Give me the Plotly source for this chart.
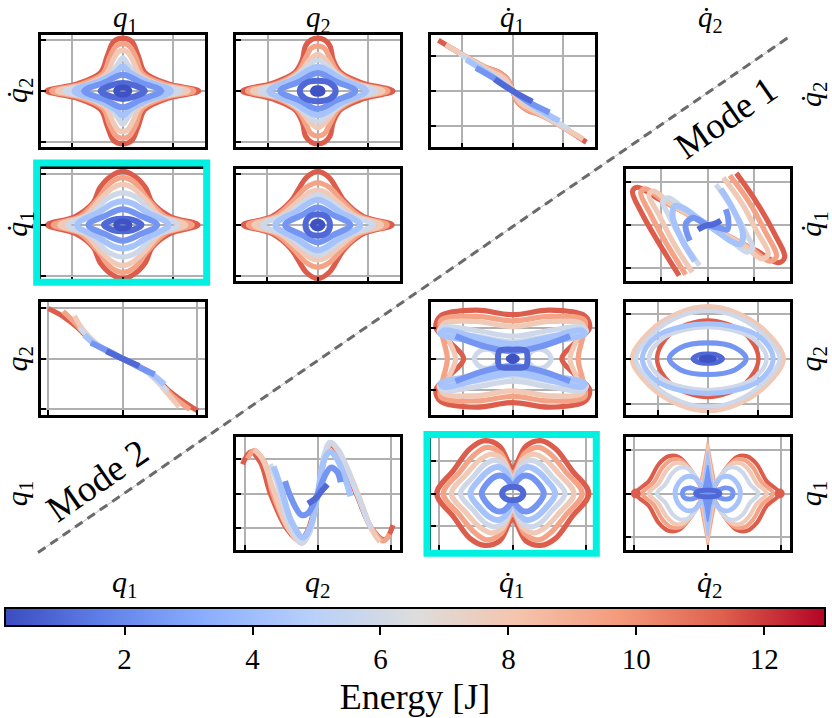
import plotly.graph_objects as go

# energy range of the colour bar and its ticks
E_MIN, E_MAX = 0.13, 12.95
ENERGY_TICKS = [2, 4, 6, 8, 10, 12]

# matplotlib "coolwarm"
COOLWARM = [
    (0.0, (59, 76, 192)), (0.125, (98, 130, 234)), (0.25, (141, 176, 254)),
    (0.375, (184, 208, 249)), (0.5, (221, 221, 221)), (0.625, (245, 196, 173)),
    (0.75, (244, 154, 123)), (0.875, (222, 96, 77)), (1.0, (180, 4, 38)),
]

# orbits, coordinates in % of each panel's half range
# each entry: (energy [J], [(x, y), ...])

# ---- Mode 1 (upper triangle)
q1_dq2 = [
    (11.4, [(-93, 0), (-55, 13), (-27, 33), (-19, 62), (-11, 88), (0, 94), (11, 88), (19, 62), (27, 33), (55, 13), (93, 0),
            (55, -13), (27, -33), (19, -62), (11, -88), (0, -94), (-11, -88), (-19, -62), (-27, -33), (-55, -13), (-93, 0)]),
    (9.4, [(-87, 0), (-51, 12), (-24, 31), (-16, 60), (-8, 80), (0, 84), (8, 80), (16, 60), (24, 31), (51, 12), (87, 0),
           (51, -12), (24, -31), (16, -60), (8, -80), (0, -84), (-8, -80), (-16, -60), (-24, -31), (-51, -12), (-87, 0)]),
    (7.8, [(-80, 0), (-46, 11), (-21, 29), (-12, 55), (-6, 69), (0, 72), (6, 69), (12, 55), (21, 29), (46, 11), (80, 0),
           (46, -11), (21, -29), (12, -55), (6, -69), (0, -72), (-6, -69), (-12, -55), (-21, -29), (-46, -11), (-80, 0)]),
    (5.9, [(-71, 0), (-38, 12), (-16, 28), (-6, 48), (0, 59), (6, 48), (16, 28), (38, 12), (71, 0),
           (38, -12), (16, -28), (6, -48), (0, -59), (-6, -48), (-16, -28), (-38, -12), (-71, 0)]),
    (4.3, [(-59, 0), (-28, 18), (-8, 34), (0, 44), (8, 34), (28, 18), (59, 0), (28, -18), (8, -34), (0, -44), (-8, -34), (-28, -18), (-59, 0)]),
    (2.4, [(-47, 0), (-22, 15), (0, 29), (22, 15), (47, 0), (22, -15), (0, -29), (-22, -15), (-47, 0)]),
    (1.0, [(-27, 0), (-14, 10), (0, 14), (14, 10), (27, 0), (14, -10), (0, -14), (-14, -10), (-27, 0)]),
    (0.3, [(-8, 0), (-5, 5), (0, 6), (5, 5), (8, 0), (5, -5), (0, -6), (-5, -5), (-8, 0)]),
]

q2_dq2 = [
    (11.4, [(-92, 0), (-55, 14), (-28, 33), (-19, 55), (-15, 80), (-8, 91), (0, 94), (8, 91), (15, 80), (19, 55), (28, 33), (55, 14), (92, 0),
            (55, -14), (28, -33), (19, -55), (15, -80), (8, -91), (0, -94), (-8, -91), (-15, -80), (-19, -55), (-28, -33), (-55, -14), (-92, 0)]),
    (9.4, [(-86, 0), (-50, 13), (-25, 33), (-15, 58), (-8, 76), (0, 80), (8, 76), (15, 58), (25, 33), (50, 13), (86, 0),
           (50, -13), (25, -33), (15, -58), (8, -76), (0, -80), (-8, -76), (-15, -58), (-25, -33), (-50, -13), (-86, 0)]),
    (7.8, [(-80, 0), (-46, 13), (-22, 33), (-10, 55), (0, 65), (10, 55), (22, 33), (46, 13), (80, 0),
           (46, -13), (22, -33), (10, -55), (0, -65), (-10, -55), (-22, -33), (-46, -13), (-80, 0)]),
    (5.9, [(-71, 0), (-40, 14), (-18, 36), (0, 55), (18, 36), (40, 14), (71, 0), (40, -14), (18, -36), (0, -55), (-18, -36), (-40, -14), (-71, 0)]),
    (4.3, [(-59, 0), (-29, 21), (0, 43), (29, 21), (59, 0), (29, -21), (0, -43), (-29, -21), (-59, 0)]),
    (2.4, [(-46, 0), (-22, 17), (0, 32), (22, 17), (46, 0), (22, -17), (0, -32), (-22, -17), (-46, 0)]),
    (1.0, [(-22, 0), (-16, 13), (0, 18), (16, 13), (22, 0), (16, -13), (0, -18), (-16, -13), (-22, 0)]),
    (0.3, [(-6, 0), (-4, 4), (0, 5), (4, 4), (6, 0), (4, -4), (0, -5), (-4, -4), (-6, 0)]),
]

dq1_dq2 = [
    (11.4, [(-91, 90), (-60, 63), (-35, 43), (-18, 34), (-6, 20), (0, 0), (6, -20), (18, -34), (35, -43), (60, -63), (90, -91)]),
    (9.4, [(-80, 80), (-55, 59), (-33, 42), (-16, 32), (-5, 18), (0, 0), (5, -18), (16, -32), (33, -42), (55, -59), (86, -86)]),
    (7.8, [(-82, 82), (-45, 50), (-25, 34), (-10, 22), (0, 0), (10, -22), (25, -34), (45, -50), (86, -85)]),
    (5.9, [(-65, 66), (-35, 38), (-12, 16), (0, 0), (12, -16), (35, -38), (69, -68)]),
    (4.3, [(-57, 56), (-30, 31), (0, 0), (30, -31), (57, -53)]),
    (2.4, [(-45, 41), (-20, 20), (0, 0), (20, -20), (45, -38)]),
    (1.0, [(-22, 21), (0, 0), (24, -19)]),
]

q1_dq1 = [
    (11.4, [(-92, 0), (-58, 15), (-36, 40), (-28, 66), (-13, 88), (0, 95), (13, 88), (28, 66), (36, 40), (58, 15), (92, 0),
            (58, -15), (36, -40), (28, -66), (13, -88), (0, -95), (-13, -88), (-28, -66), (-36, -40), (-58, -15), (-92, 0)]),
    (9.4, [(-85, 0), (-52, 15), (-31, 45), (-14, 76), (0, 84), (14, 76), (31, 45), (52, 15), (85, 0),
           (52, -15), (31, -45), (14, -76), (0, -84), (-14, -76), (-31, -45), (-52, -15), (-85, 0)]),
    (7.8, [(-77, 0), (-46, 16), (-28, 45), (-12, 66), (0, 72), (12, 66), (28, 45), (46, 16), (77, 0),
           (46, -16), (28, -45), (12, -66), (0, -72), (-12, -66), (-28, -45), (-46, -16), (-77, 0)]),
    (5.9, [(-67, 0), (-38, 20), (-18, 48), (0, 57), (18, 48), (38, 20), (67, 0), (38, -20), (18, -48), (0, -57), (-18, -48), (-38, -20), (-67, 0)]),
    (4.3, [(-56, 0), (-30, 22), (-12, 38), (0, 42), (12, 38), (30, 22), (56, 0), (30, -22), (12, -38), (0, -42), (-12, -38), (-30, -22), (-56, 0)]),
    (2.4, [(-42, 0), (-22, 16), (0, 28), (22, 16), (42, 0), (22, -16), (0, -28), (-22, -16), (-42, 0)]),
    (1.0, [(-23, 0), (-12, 9), (0, 11), (12, 9), (23, 0), (12, -9), (0, -11), (-12, -9), (-23, 0)]),
    (0.3, [(-8, 0), (-5, 5), (0, 6), (5, 5), (8, 0), (5, -5), (0, -6), (-5, -5), (-8, 0)]),
]

q2_dq1 = [
    (11.4, [(-91, 0), (-56, 15), (-33, 42), (-24, 62), (-14, 84), (0, 95), (14, 84), (24, 62), (33, 42), (56, 15), (91, 0),
            (56, -15), (33, -42), (24, -62), (14, -84), (0, -95), (-14, -84), (-24, -62), (-33, -42), (-56, -15), (-91, 0)]),
    (9.4, [(-85, 0), (-52, 15), (-29, 44), (-15, 66), (0, 75), (15, 66), (29, 44), (52, 15), (85, 0),
           (52, -15), (29, -44), (15, -66), (0, -75), (-15, -66), (-29, -44), (-52, -15), (-85, 0)]),
    (7.8, [(-78, 0), (-46, 16), (-24, 42), (-10, 58), (0, 62), (10, 58), (24, 42), (46, 16), (78, 0),
           (46, -16), (24, -42), (10, -58), (0, -62), (-10, -58), (-24, -42), (-46, -16), (-78, 0)]),
    (5.9, [(-68, 0), (-38, 18), (-16, 42), (0, 54), (16, 42), (38, 18), (68, 0), (38, -18), (16, -42), (0, -54), (-16, -42), (-38, -18), (-68, 0)]),
    (4.3, [(-52, 0), (-26, 24), (0, 45), (26, 24), (52, 0), (26, -24), (0, -45), (-26, -24), (-52, 0)]),
    (2.4, [(-40, 0), (-20, 17), (0, 31), (20, 17), (40, 0), (20, -17), (0, -31), (-20, -17), (-40, 0)]),
    (1.0, [(-15, 0), (-11, 14), (0, 19), (11, 14), (15, 0), (11, -14), (0, -19), (-11, -14), (-15, 0)]),
    (0.3, [(-6, 0), (-4, 4), (0, 6), (4, 4), (6, 0), (4, -4), (0, -6), (-4, -4), (-6, 0)]),
]

dq2_dq1 = [
    (11.4, [(-35, -90), (-59, -34), (-80, 19), (-92, 60), (-86, 67), (-60, 46), (-30, 24), (0, 0), (30, -24), (60, -46),
            (86, -67), (94, -58), (80, -11), (59, 42), (35, 92)]),
    (9.4, [(-27, -88), (-50, -34), (-70, 19), (-82, 58), (-76, 64), (-52, 41), (-26, 20), (0, 0), (26, -20), (52, -41),
           (76, -64), (84, -56), (70, -11), (50, 42), (27, 88)]),
    (7.8, [(-19, -84), (-41, -34), (-60, 19), (-72, 54), (-66, 60), (-45, 37), (-22, 18), (0, 0), (22, -18), (45, -37),
           (66, -60), (74, -52), (60, -11), (41, 40), (19, 84)]),
    (5.9, [(-10, -72), (-30, -30), (-47, 15), (-55, 42), (-48, 48), (-30, 30), (-12, 12), (0, 0), (12, -12), (30, -30),
           (48, -48), (55, -42), (47, -15), (30, 30), (10, 72)]),
    (4.3, [(-16, -64), (-32, -25), (-43, 15), (-40, 34), (-30, 30), (-12, 12), (0, 0), (12, -12), (30, -30), (40, -34),
           (43, -15), (32, 25), (16, 64)]),
    (2.4, [(-22, -28), (-27, 1), (-18, 13), (-6, 4), (0, 0), (14, -5), (24, -8), (25, 12), (22, 28)]),
    (1.0, [(-12, -8), (-4, -2), (8, 2), (16, 8)]),
]

# ---- Mode 2 (lower triangle)
q1_q2 = [
    (11.4, [(-91, 89), (-72, 74), (-55, 55), (-42, 36), (-28, 20), (0, 0), (28, -20), (42, -36), (55, -55), (72, -74), (92, -93)]),
    (9.4, [(-73, 84), (-60, 66), (-46, 44), (-30, 23), (0, 0), (30, -23), (46, -44), (62, -68), (82, -90)]),
    (7.8, [(-59, 76), (-52, 58), (-42, 40), (-28, 22), (0, 0), (28, -22), (42, -40), (55, -62), (69, -86)]),
    (5.9, [(-53, 56), (-42, 38), (-30, 24), (0, 0), (30, -24), (44, -42), (55, -58)]),
    (4.3, [(-47, 42), (-34, 26), (0, 0), (34, -26), (51, -46)]),
    (2.4, [(-39, 28), (-20, 15), (0, 0), (20, -15), (39, -28)]),
    (1.0, [(-20, 13), (0, 0), (20, -13)]),
]

q2_q1 = [
    (11.4, [(-92, 52), (-82, 74), (-70, 55), (-58, 0), (-38, -62), (-22, -84), (-12, -65), (0, 0), (10, 72), (16, 86), (25, 72),
            (47, 0), (66, -62), (82, -82), (92, -56)]),
    (9.4, [(-86, 62), (-78, 76), (-65, 55), (-55, 0), (-36, -62), (-20, -86), (-10, -65), (0, 0), (10, 72), (16, 88), (26, 72),
           (48, 0), (66, -62), (80, -84), (88, -72)]),
    (7.8, [(-78, 78), (-68, 62), (-55, 10), (-36, -62), (-19, -88), (-10, -65), (0, 0), (10, 72), (16, 90), (27, 72),
           (49, 0), (66, -64), (76, -86)]),
    (5.9, [(-58, 52), (-50, 20), (-36, -50), (-20, -88), (-10, -70), (0, 0), (8, 70), (15, 91), (25, 78), (48, 0), (62, -52), (66, -62)]),
    (4.3, [(-54, 48), (-46, 15), (-32, -50), (-18, -78), (-8, -55), (0, 0), (8, 60), (15, 74), (24, 60), (35, 20), (40, -5)]),
    (2.4, [(-40, 22), (-32, -10), (-20, -38), (-12, -35), (0, 0), (10, 35), (16, 46), (24, 38), (28, 20)]),
    (1.0, [(-12, -18), (-2, -8), (5, 5), (12, 16)]),
]

dq1_q2 = [
    (11.4, [(-88, 76), (-45, 86), (0, 78), (45, 86), (88, 76), (94, 55), (76, 28), (60, 0), (76, -28), (94, -55), (88, -76),
            (45, -86), (0, -78), (-45, -86), (-88, -76), (-94, -55), (-76, -28), (-60, 0), (-76, 28), (-94, 55), (-88, 76)]),
    (9.4, [(-88, 68), (-45, 75), (0, 67), (45, 75), (88, 68), (86, 40), (80, 0), (86, -40), (88, -68),
           (45, -75), (0, -67), (-45, -75), (-88, -68), (-86, -40), (-80, 0), (-86, 40), (-88, 68)]),
    (7.8, [(-86, 60), (-45, 66), (0, 57), (45, 66), (86, 60), (78, 32), (70, 0), (78, -32), (86, -60),
           (45, -66), (0, -57), (-45, -66), (-86, -60), (-78, -32), (-70, 0), (-78, 32), (-86, 60)]),
    (5.9, [(-90, 48), (-45, 40), (0, 30), (45, 40), (90, 48), (86, 56), (45, 50), (0, 40), (-45, 50), (-86, 56), (-90, 48)]),
    (5.9, [(-90, -48), (-45, -40), (0, -30), (45, -40), (90, -48), (86, -56), (45, -50), (0, -40), (-45, -50), (-86, -56), (-90, -48)]),
    (5.9, [(-47, 0), (-40, 14), (-32, 17), (-24, 14), (-18, 0), (-24, -14), (-32, -17), (-40, -14), (-47, 0)]),
    (5.9, [(47, 0), (40, 14), (32, 17), (24, 14), (18, 0), (24, -14), (32, -17), (40, -14), (47, 0)]),
    (4.3, [(-88, 44), (-45, 30), (0, 18), (45, 30), (88, 44), (84, 50), (45, 38), (0, 26), (-45, 38), (-84, 50), (-88, 44)]),
    (4.3, [(-88, -44), (-45, -30), (0, -18), (45, -30), (88, -44), (84, -50), (45, -38), (0, -26), (-45, -38), (-84, -50), (-88, -44)]),
    (2.4, [(-70, 40), (-35, 22), (0, 13), (35, 22), (70, 40)]),
    (2.4, [(-70, -40), (-35, -22), (0, -13), (35, -22), (70, -40)]),
    (1.0, [(-18, 0), (-16, 14), (0, 16), (16, 14), (18, 0), (16, -14), (0, -16), (-16, -14), (-18, 0)]),
    (0.3, [(-5, 0), (0, 4), (5, 0), (0, -4), (-5, 0)]),
]

dq2_q2 = [
    (11.4, [(-62, 0), (-45, 45), (0, 68), (45, 45), (62, 0), (45, -45), (0, -68), (-45, -45), (-62, 0)]),
    (9.4, [(-90, 0), (-68, 48), (-34, 79), (0, 88), (34, 79), (68, 48), (90, 0), (68, -48), (34, -79), (0, -88), (-34, -79), (-68, -48), (-90, 0)]),
    (7.8, [(-93, 0), (-70, 50), (-35, 82), (0, 93), (35, 82), (70, 50), (93, 0), (70, -50), (35, -82), (0, -93), (-35, -82), (-70, -50), (-93, 0)]),
    (5.9, [(-88, 0), (-66, 46), (-33, 76), (0, 85), (33, 76), (66, 46), (88, 0), (66, -46), (33, -76), (0, -85), (-33, -76), (-66, -46), (-88, 0)]),
    (5.9, [(-72, 0), (-55, 36), (0, 56), (55, 36), (72, 0), (55, -36), (0, -56), (-55, -36), (-72, 0)]),
    (4.3, [(-80, 0), (-62, 40), (0, 62), (62, 40), (80, 0), (62, -40), (0, -62), (-62, -40), (-80, 0)]),
    (2.4, [(-47, 0), (-33, 20), (0, 28), (33, 20), (47, 0), (33, -20), (0, -28), (-33, -20), (-47, 0)]),
    (1.0, [(-18, 0), (-12, 6), (0, 8), (12, 6), (18, 0), (12, -6), (0, -8), (-12, -6), (-18, 0)]),
    (0.3, [(-8, 0), (0, 3), (8, 0), (0, -3), (-8, 0)]),
]

dq1_q1 = [
    (11.4, [(-93, 0), (-72, 42), (-52, 80), (-34, 94), (-16, 84), (0, 46), (16, 84), (34, 94), (52, 80), (72, 42), (93, 0),
            (72, -42), (52, -80), (34, -92), (16, -84), (0, -46), (-16, -84), (-34, -92), (-52, -80), (-72, -42), (-93, 0)]),
    (9.4, [(-85, 0), (-65, 38), (-46, 70), (-32, 82), (-15, 72), (0, 36), (15, 72), (32, 82), (46, 70), (65, 38), (85, 0),
           (65, -38), (46, -70), (32, -82), (15, -72), (0, -36), (-15, -72), (-32, -82), (-46, -70), (-65, -38), (-85, 0)]),
    (7.8, [(-75, 0), (-57, 34), (-40, 60), (-26, 70), (-12, 60), (0, 28), (12, 60), (26, 70), (40, 60), (57, 34), (75, 0),
           (57, -34), (40, -60), (26, -70), (12, -60), (0, -28), (-12, -60), (-26, -70), (-40, -60), (-57, -34), (-75, 0)]),
    (5.9, [(-64, 0), (-48, 30), (-34, 52), (-22, 59), (-10, 50), (0, 22), (10, 50), (22, 59), (34, 52), (48, 30), (64, 0),
           (48, -30), (34, -52), (22, -59), (10, -50), (0, -22), (-10, -50), (-22, -59), (-34, -52), (-48, -30), (-64, 0)]),
    (4.3, [(-52, 0), (-40, 26), (-28, 42), (-18, 47), (-8, 38), (0, 16), (8, 38), (18, 47), (28, 42), (40, 26), (52, 0),
           (40, -26), (28, -42), (18, -47), (8, -38), (0, -16), (-8, -38), (-18, -47), (-28, -42), (-40, -26), (-52, 0)]),
    (2.4, [(-38, 0), (-30, 20), (-20, 31), (-12, 31), (-5, 22), (0, 12), (5, 22), (12, 31), (20, 31), (30, 20), (38, 0),
           (30, -20), (20, -31), (12, -31), (5, -22), (0, -12), (-5, -22), (-12, -31), (-20, -31), (-30, -20), (-38, 0)]),
    (1.0, [(-13, 0), (-9, 9), (0, 12), (9, 9), (13, 0), (9, -9), (0, -12), (-9, -9), (-13, 0)]),
]

dq2_q1 = [
    (11.4, [(-88, 0), (-72, 22), (-60, 52), (-48, 66), (-36, 65), (-22, 44), (-8, 12), (0, 0), (8, 12), (22, 44), (36, 65), (48, 66),
            (60, 52), (72, 22), (88, 0), (72, -22), (60, -52), (48, -66), (36, -65), (22, -44), (8, -12), (0, 0), (-8, -12),
            (-22, -44), (-36, -65), (-48, -66), (-60, -52), (-72, -22), (-88, 0)]),
    (9.4, [(-80, 0), (-66, 20), (-55, 47), (-44, 60), (-33, 59), (-20, 40), (-7, 11), (0, 0), (7, 11), (20, 40), (33, 59), (44, 60),
           (55, 47), (66, 20), (80, 0), (66, -20), (55, -47), (44, -60), (33, -59), (20, -40), (7, -11), (0, 0), (-7, -11),
           (-20, -40), (-33, -59), (-44, -60), (-55, -47), (-66, -20), (-80, 0)]),
    (7.8, [(-72, 0), (-60, 18), (-50, 42), (-40, 54), (-30, 53), (-18, 36), (-6, 10), (0, 0), (6, 10), (18, 36), (30, 53), (40, 54),
           (50, 42), (60, 18), (72, 0), (60, -18), (50, -42), (40, -54), (30, -53), (18, -36), (6, -10), (0, 0), (-6, -10),
           (-18, -36), (-30, -53), (-40, -54), (-50, -42), (-60, -18), (-72, 0)]),
    (5.9, [(-62, 0), (-52, 16), (-43, 37), (-34, 46), (-25, 45), (-15, 30), (-5, 8), (0, 0), (5, 8), (15, 30), (25, 45), (34, 46),
           (43, 37), (52, 16), (62, 0), (52, -16), (43, -37), (34, -46), (25, -45), (15, -30), (5, -8), (0, 0), (-5, -8),
           (-15, -30), (-25, -45), (-34, -46), (-43, -37), (-52, -16), (-62, 0)]),
    (4.3, [(-40, 0), (-36, 18), (-26, 30), (-16, 28), (-8, 14), (0, 0), (8, 14), (16, 28), (26, 30), (36, 18), (40, 0),
           (36, -18), (26, -30), (16, -28), (8, -14), (0, 0), (-8, -14), (-16, -28), (-26, -30), (-36, -18), (-40, 0)]),
    (2.4, [(-31, 0), (-28, 8), (-21, 10), (-14, 7), (-6, 2), (0, 0), (6, 2), (14, 7), (21, 10), (28, 8), (31, 0),
           (28, -8), (21, -10), (14, -7), (6, -2), (0, 0), (-6, -2), (-14, -7), (-21, -10), (-28, -8), (-31, 0)]),
    (1.0, [(-15, 0), (-10, 5), (0, 6), (10, 5), (15, 0), (10, -5), (0, -6), (-10, -5), (-15, 0)]),
]
# the narrow vertical spindles in the q1 / q2-dot panel (filled)
dq2_q1_spindle = [
    (9.4, [(0, -94), (-6, -45), (-12, 0), (-6, 45), (0, 94), (6, 45), (12, 0), (6, -45), (0, -94)]),
    (7.8, [(0, -88), (-5, -42), (-10, 0), (-5, 42), (0, 88), (5, 42), (10, 0), (5, -42), (0, -88)]),
    (4.3, [(0, -76), (-4, -36), (-8, 0), (-4, 36), (0, 76), (4, 36), (8, 0), (4, -36), (0, -76)]),
    (2.4, [(0, -50), (-3, -24), (-7, 0), (-3, 24), (0, 50), (3, 24), (7, 0), (3, -24), (0, -50)]),
]
dq2_q1_ends = [(-88, 0), (88, 0)]

# panel placement (pixels) and grid positions
COL_LEFT = [41, 236, 431, 626]
ROW_TOP = [35, 170.3, 305.3, 441.5]
PANEL_W, PANEL_H = 163.5, 113.8
W, H = 832, 718

PANELS = [
    (0, 0, q1_dq2, [-62, 0, 62], [-91, 0, 91], 1.0),
    (0, 1, q2_dq2, [-61, 0, 61], [-91, 0, 91], 1.0),
    (0, 2, dq1_dq2, [-62, 0, 62], [-63, 0, 63], 1.0),
    (1, 0, q1_dq1, [-62, 0, 62], [-91, 0, 91], 1.0),
    (1, 1, q2_dq1, [-62, 0, 62], [-91, 0, 91], 1.0),
    (1, 3, dq2_dq1, [-57, 0, 57], [-77, 0, 77], 1.0),
    (2, 0, q1_q2, [-91, 0, 91], [-90, 0, 90], 1.0),
    (2, 2, dq1_q2, [-61, 0, 61], [-55, 0, 55], 1.0),
    (2, 3, dq2_q2, [-61, 0, 61], [-80, 0, 80], 0.85),
    (3, 1, q2_q1, [-89, 0, 89], [-62, 0, 62], 1.0),
    (3, 2, dq1_q1, [-90, 0, 90], [-57, 0, 57], 1.0),
    (3, 3, dq2_q1, [-90, 0, 90], [-78, 0, 78], 0.8),
]

FONT = "Liberation Serif"


def energy_color(e):
    t = min(max((e - E_MIN) / (E_MAX - E_MIN), 0), 1)
    for (p0, c0), (p1, c1) in zip(COOLWARM[:-1], COOLWARM[1:]):
        if t <= p1:
            f = (t - p0) / (p1 - p0)
            r, g, b = [round(a + (bb - a) * f) for a, bb in zip(c0, c1)]
            return f"rgb({r},{g},{b})"
    return "rgb(180,4,38)"


def width_for(e):
    return 6 if e < 5 else 5.2


fig = go.Figure()

for k, (row, col, curves, xt, yt, wscale) in enumerate(PANELS, start=1):
    xa = "x" if k == 1 else f"x{k}"
    ya = "y" if k == 1 else f"y{k}"
    x0 = COL_LEFT[col]
    y0 = ROW_TOP[row]
    axis = dict(range=[-100, 100], showticklabels=False, ticks="inside", ticklen=5, tickwidth=2,
                tickcolor="black", showgrid=True, gridcolor="#b0b0b0", gridwidth=1.5, zeroline=False,
                showline=True, linecolor="black", linewidth=2.5, mirror=True, fixedrange=True)
    fig.layout[xa.replace("x", "xaxis")] = dict(axis, domain=[x0 / W, (x0 + PANEL_W) / W], anchor=ya, tickvals=xt)
    fig.layout[ya.replace("y", "yaxis")] = dict(axis, domain=[1 - (y0 + PANEL_H) / H, 1 - y0 / H], anchor=xa, tickvals=yt)

    items = [(e, pts, False) for e, pts in curves]
    if curves is dq2_q1:
        items += [(e, pts, True) for e, pts in dq2_q1_spindle]
    for e, pts, filled in sorted(items, key=lambda c: -c[0]):
        col_e = energy_color(e)
        fig.add_trace(go.Scatter(
            x=[p[0] for p in pts], y=[p[1] for p in pts], mode="lines",
            line=dict(color=col_e, width=(1.5 if filled else width_for(e) * wscale),
                      shape="linear" if filled else "spline", smoothing=1.0),
            fill="toself" if filled else None, fillcolor=col_e if filled else None,
            xaxis=xa, yaxis=ya, showlegend=False, hoverinfo="skip"))
    if curves is dq2_q1:
        fig.add_trace(go.Scatter(
            x=[p[0] for p in dq2_q1_ends], y=[p[1] for p in dq2_q1_ends], mode="markers",
            marker=dict(size=10, color=energy_color(11.4), line=dict(width=0)),
            xaxis=xa, yaxis=ya, showlegend=False, hoverinfo="skip"))

# colour bar carrier
fig.add_trace(go.Scatter(
    x=[None], y=[None], mode="markers", showlegend=False, hoverinfo="skip",
    marker=dict(color=[E_MIN], cmin=E_MIN, cmax=E_MAX,
                colorscale=[[p, "rgb(%d,%d,%d)" % c] for p, c in COOLWARM], showscale=True,
                colorbar=dict(orientation="h", x=415 / W, xanchor="center", y=1 - 614 / H, yanchor="top",
                              len=820 / W, lenmode="fraction", thickness=18, thicknessmode="pixels",
                              xpad=0, ypad=0, outlinewidth=2, outlinecolor="black",
                              tickvals=ENERGY_TICKS, ticks="outside", ticklen=8, tickwidth=2, tickcolor="black",
                              tickfont=dict(family=FONT, size=29, color="black"),
                              title=dict(text="Energy [J]", side="bottom",
                                         font=dict(family=FONT, size=36, color="black")))),
    xaxis="x", yaxis="y"))

Q1, Q2 = "<i>q</i><sub>1</sub>", "<i>q</i><sub>2</sub>"
DQ1, DQ2 = "<i>q\u0307</i><sub>1</sub>", "<i>q\u0307</i><sub>2</sub>"

# column titles along the top edge
for text, px in [(Q1, 125), (Q2, 318), (DQ1, 512), (DQ2, 710)]:
    fig.add_annotation(text=text, x=px / W, y=1, xref="paper", yref="paper", showarrow=False,
                       xanchor="center", yanchor="top", borderpad=0,
                       font=dict(family=FONT, size=29, color="black"))

labels = [
    (Q1, 125, 590, 0), (Q2, 318, 590, 0), (DQ1, 512, 590, 0), (DQ2, 710, 590, 0),
    (DQ2, 19, 91, -90), (DQ1, 19, 226, -90), (Q2, 19, 362, -90), (Q1, 19, 498, -90),
    (DQ2, 813, 95, -90), (DQ1, 813, 226, -90), (Q2, 813, 362, -90), (Q1, 813, 498, -90),
]
for text, px, py, ang in labels:
    fig.add_annotation(text=text, x=px / W, y=1 - py / H, xref="paper", yref="paper", showarrow=False,
                       textangle=ang, xanchor="center", yanchor="middle",
                       font=dict(family=FONT, size=30, color="black"))

for text, px, py in [("Mode 1", 726, 119), ("Mode 2", 97, 485)]:
    fig.add_annotation(text=text, x=px / W, y=1 - py / H, xref="paper", yref="paper", showarrow=False,
                       textangle=-34.7, xanchor="center", yanchor="middle",
                       font=dict(family=FONT, size=37, color="black"))

# diagonal separating the two modes
fig.add_shape(type="line", xref="paper", yref="paper", x0=38 / W, y0=1 - 558 / H, x1=788 / W, y1=1 - 38 / H,
              line=dict(color="#c0c0c0", width=1))
fig.add_shape(type="line", xref="paper", yref="paper", x0=38 / W, y0=1 - 558 / H, x1=788 / W, y1=1 - 38 / H,
              line=dict(color="#6a6a6a", width=3, dash="9px,6px"))

# highlighted panels
for x0, y0, x1, y1 in [(36.7, 164.7, 206.7, 285), (427, 438.8, 596.3, 558.8)]:
    fig.add_shape(type="rect", xref="paper", yref="paper", x0=x0 / W, x1=x1 / W, y0=1 - y1 / H, y1=1 - y0 / H,
                  line=dict(color="#00f0e2", width=7))

fig.update_layout(width=W, height=H, margin=dict(l=0, r=0, t=0, b=0),
                  paper_bgcolor="white", plot_bgcolor="white", showlegend=False)

fig.write_html("out.html", config={"displayModeBar": False},
               post_script="document.body.style.margin='0px';document.body.style.overflow='hidden';")
